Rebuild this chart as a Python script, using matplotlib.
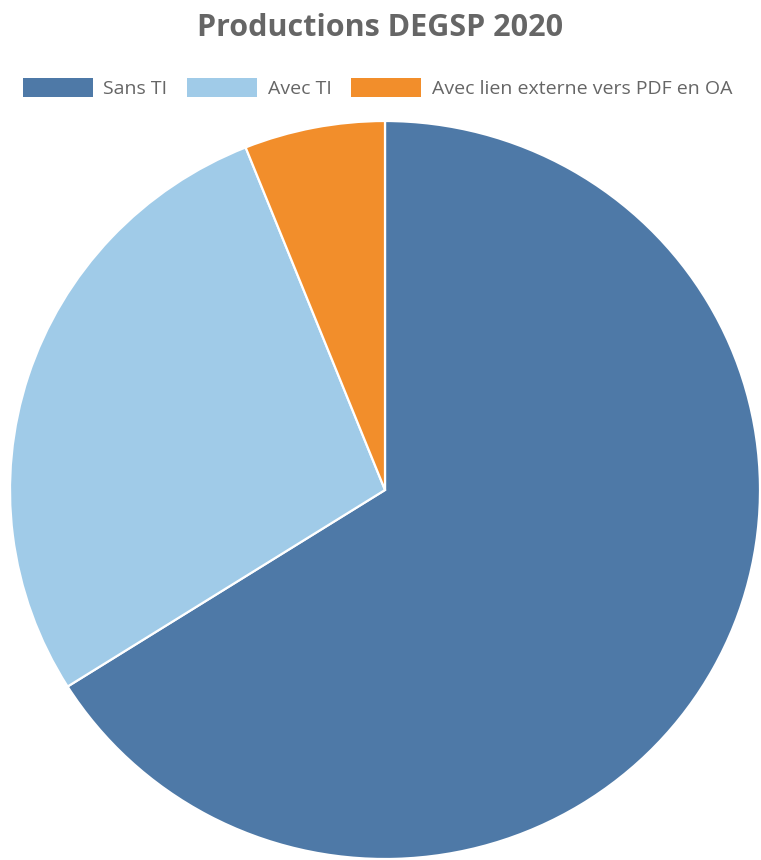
import matplotlib.pyplot as plt
from matplotlib.patches import Patch

# data
labels = ['Sans TI', 'Avec TI', 'Avec lien externe vers PDF en OA']
counts = [109, 46, 10]
colors = ['#4e79a7', '#a0cbe8', '#f28e2b']

plt.rcParams['font.family'] = ['Open Sans', 'DejaVu Sans']

fig = plt.figure(figsize=(7.61, 8.6), dpi=100)
ax = fig.add_axes([10 / 761, 1 / 860, 750 / 761, 738 / 860])

ax.pie(counts, colors=colors, startangle=90, counterclock=False,
       radius=1.0, wedgeprops=dict(edgecolor='white', linewidth=1.6))
ax.set_aspect('auto')
ax.set_xlim(-1, 1)
ax.set_ylim(-1, 1)
ax.axis('off')

fig.text(0.5, 1 - 28 / 860, 'Productions DEGSP 2020', ha='center', va='center',
         fontsize=22, fontweight='bold', color='#666666')

handles = [Patch(facecolor=c, edgecolor='none') for c in colors]
fig.legend(handles, labels, loc='center', bbox_to_anchor=(377.5 / 761, 1 - 88 / 860),
           ncol=3, frameon=False, fontsize=14, labelcolor='#666666',
           handlelength=3.6, handleheight=1.15, handletextpad=0.55,
           columnspacing=1.0, borderpad=0, borderaxespad=0)

fig.savefig('out.png', dpi=100)
